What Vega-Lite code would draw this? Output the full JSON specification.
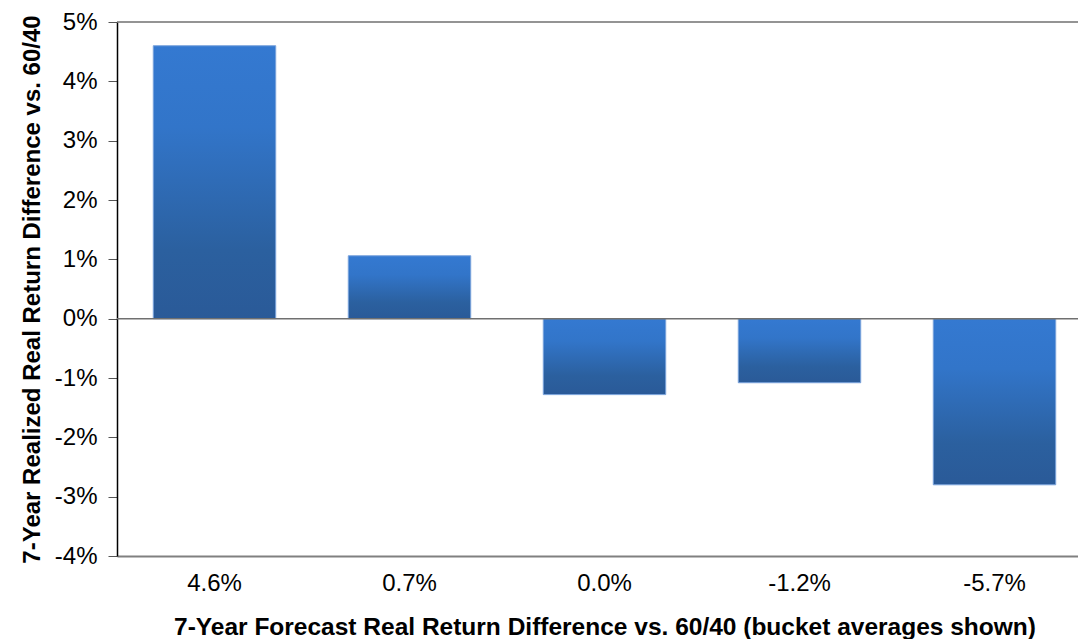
{
  "$schema": "https://vega.github.io/schema/vega-lite/v6.json",
  "autosize": "none",
  "padding": {"left": 117, "top": 22, "right": 0, "bottom": 83},
  "width": 975,
  "height": 534,
  "background": "white",
  "config": {
    "view": {"stroke": null},
    "font": "Liberation Sans"
  },
  "datasets": {
    "bars": [
      {"bucket": "4.6%", "diff": 0.046},
      {"bucket": "0.7%", "diff": 0.0106},
      {"bucket": "0.0%", "diff": -0.0128},
      {"bucket": "-1.2%", "diff": -0.0108},
      {"bucket": "-5.7%", "diff": -0.028}
    ],
    "lines": [
      {"level": 0},
      {"level": 0.05}
    ]
  },
  "layer": [
    {
      "data": {"name": "bars"},
      "mark": {
        "type": "bar",
        "stroke": "#7aa3dc",
        "strokeWidth": 1,
        "color": {
          "gradient": "linear",
          "x1": 0, "y1": 0, "x2": 0, "y2": 1,
          "stops": [
            {"offset": 0, "color": "#3479d1"},
            {"offset": 0.3, "color": "#3275c9"},
            {"offset": 0.75, "color": "#2b609f"},
            {"offset": 1, "color": "#2a5a98"}
          ]
        }
      },
      "encoding": {
        "x": {
          "field": "bucket",
          "type": "nominal",
          "sort": null,
          "scale": {"paddingInner": 0.372, "paddingOuter": 0.186},
          "axis": {
            "title": "7-Year Forecast Real Return Difference vs. 60/40 (bucket averages shown)",
            "titleFont": "Liberation Sans",
            "titleFontSize": 24.5,
            "titleFontWeight": "bold",
            "titleColor": "#000000",
            "titlePadding": 20,
            "labelFont": "Liberation Sans",
            "labelFontSize": 24,
            "labelColor": "#000000",
            "labelAngle": 0,
            "labelPadding": 15,
            "ticks": false,
            "domainColor": "#808080",
            "domainWidth": 2
          }
        },
        "y": {
          "field": "diff",
          "type": "quantitative",
          "scale": {"domain": [-0.04, 0.05], "nice": false},
          "axis": {
            "title": "7-Year Realized Real Return Difference vs. 60/40",
            "titleFont": "Liberation Sans",
            "titleFontSize": 24,
            "titleFontWeight": "bold",
            "titleColor": "#000000",
            "titlePadding": 10,
            "labelExpr": "replace(format(datum.value, '.0%'), '\u2212', '-')",
            "values": [-0.04, -0.03, -0.02, -0.01, 0, 0.01, 0.02, 0.03, 0.04, 0.05],
            "labelFont": "Liberation Sans",
            "labelFontSize": 24,
            "labelColor": "#000000",
            "labelPadding": 11,
            "tickSize": 9,
            "tickColor": "#555555",
            "domainColor": "#000000",
            "domainWidth": 1.5,
            "grid": false
          }
        }
      }
    },
    {
      "data": {"name": "lines"},
      "mark": {"type": "rule", "color": "#707070", "strokeWidth": 1.5},
      "encoding": {
        "y": {"field": "level", "type": "quantitative"}
      }
    }
  ]
}
